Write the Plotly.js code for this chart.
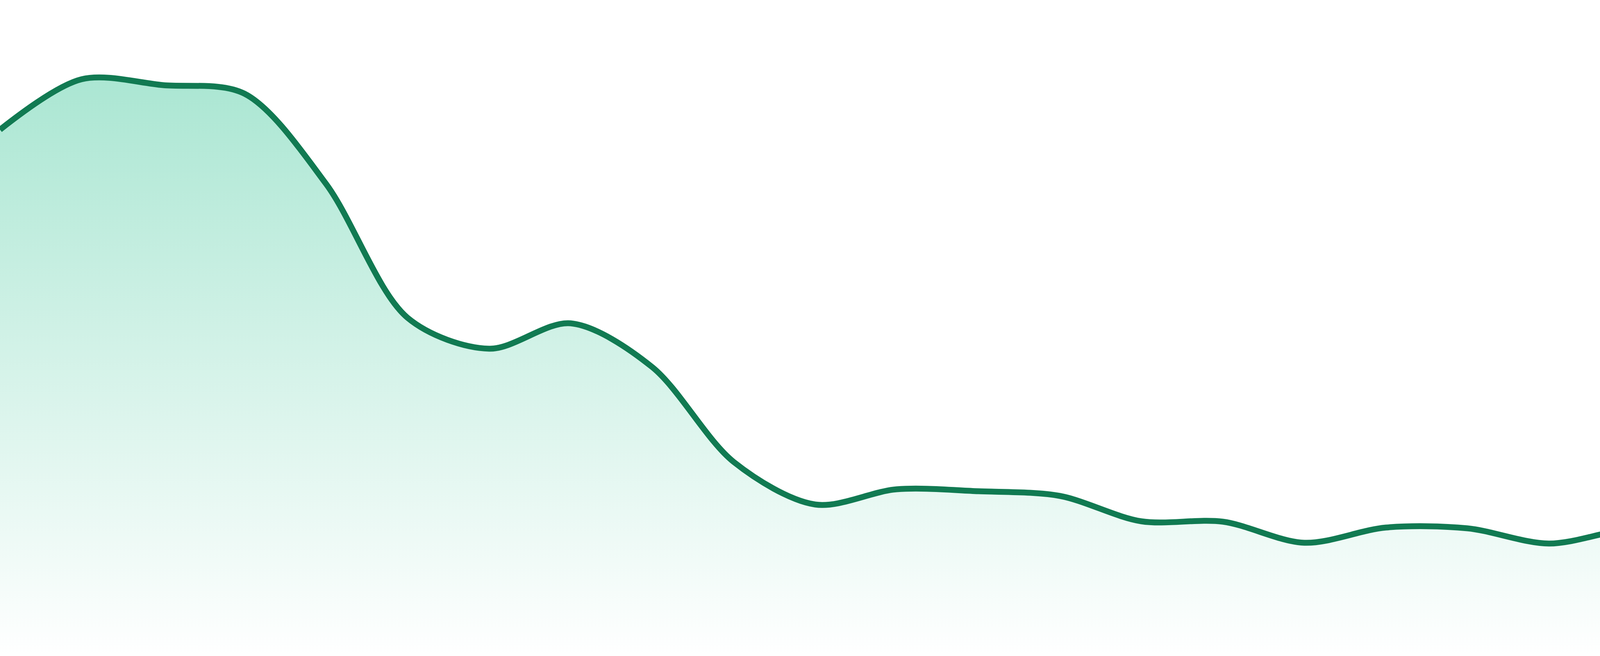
<!DOCTYPE html>
<html>
<head>
<meta charset="utf-8">
<script src="https://cdn.plot.ly/plotly-3.0.1.min.js"></script>
<style>
  html, body { margin: 0; padding: 0; background: #ffffff; }
  #myDiv { width: 4800px; height: 1680px; }
</style>
</head>
<body>
<div id="myDiv"></div>
<script>
// one point per day
var days = [1, 2, 3, 4, 5, 6, 7, 8, 9, 10, 11, 12,
            13, 14, 15, 16, 17, 18, 19, 20, 21, 22, 23, 24];

var values = [134.8, 147.7, 146.2, 144.0, 120.9, 86.6, 78.7, 85.2,
              74.0, 49.7, 38.8, 42.7, 42.2, 41.0, 34.5, 34.4,
              29.0, 32.9, 32.7, 28.8, 32.4, 30.8, 31.7, 30.9];

var lineColor = '#117a52';

function Draw(){

  var area = {
    x: days,
    y: values,
    type: 'scatter',
    mode: 'lines',
    line: { color: lineColor, width: 15, shape: 'spline', smoothing: 0.9 },
    fill: 'tozeroy',
    fillgradient: {
      type: 'vertical',
      start: 0,
      stop: 168,
      colorscale: [[0, 'rgba(16,185,129,0)'], [1, 'rgba(16,185,129,0.4)']]
    },
    hoverinfo: 'skip'
  };

  var layout = {
    width: 4800,
    height: 1680,
    margin: { l: 0, r: 0, t: 0, b: 0, pad: 0 },
    paper_bgcolor: '#ffffff',
    plot_bgcolor: '#ffffff',
    showlegend: false,
    xaxis: { range: [1, 24], visible: false, fixedrange: true },
    yaxis: { range: [0, 168], visible: false, fixedrange: true }
  };

  Plotly.newPlot('myDiv', [area], layout, { staticPlot: true, displayModeBar: false });
}

Draw();
</script>
</body>
</html>
